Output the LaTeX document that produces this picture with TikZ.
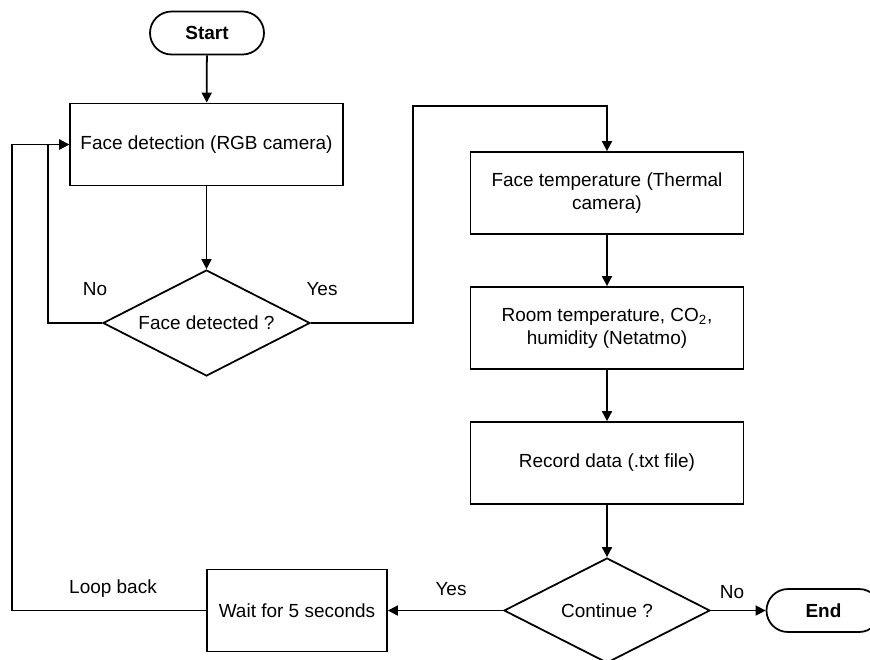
\documentclass[tikz,border=0pt]{standalone}
\usepackage{fontspec}
\setmainfont{Liberation Sans}
\usetikzlibrary{shapes.geometric, arrows.meta}

\begin{document}
\begin{tikzpicture}[
    font=\fontsize{10.8}{13}\selectfont,
    box/.style={draw, line width=1pt, align=center, inner sep=2pt,
        minimum width=5.46cm, minimum height=1.64cm},
    terminal/.style={draw, line width=1pt, rounded corners=.43cm,
        minimum width=2.28cm, minimum height=.86cm, font=\fontsize{10.8}{13}\selectfont\bfseries},
    decision/.style={diamond, aspect=2, draw, line width=1pt, inner sep=0pt,
        minimum width=4.14cm, minimum height=2.12cm},
    arrow/.style={-{Triangle[length=.2cm, width=.2cm]}, line width=1pt},
    label/.style={inner sep=1pt},
]
    \useasboundingbox (0, 0) rectangle (17.4, -13.18);
    \clip (0, 0) rectangle (17.4, -13.18);

    %% left column: start, detection and the first test
    \node[terminal] (start) at (4.14, -.66) {Start};
    \node[box] (facedet) at (4.13, -2.89) {Face detection (RGB camera)};
    \node[decision] (detected) at (4.13, -6.46) {Face detected ?};
    \draw[arrow] (start) -- (facedet);
    \draw[arrow] (facedet) -- (detected);
    \draw[arrow] (detected.west) -- ++(-1.08, 0) |- (facedet.west);
    \node[label] (no1) at (1.9, -5.78) {No};
    \node[label] (yes1) at (6.44, -5.78) {Yes};

    %% right column: the measurements
    \node[box] (facetemp) at (12.14, -3.86) {Face temperature (Thermal\\camera)};
    \node[box] (roomtemp) at (12.14, -6.56)
        {Room temperature, CO\textsubscript{2},\\humidity (Netatmo)};
    \node[box] (record) at (12.14, -9.26) {Record data (.txt file)};
    \node[decision, minimum width=4.12cm, minimum height=2.1cm] (continue)
        at (12.14, -12.21) {Continue ?};
    \draw[arrow] (detected.east) -- ++(2.04, 0)
        |- ([yshift=.9cm]facetemp.north) -- (facetemp.north);
    \draw[arrow] (facetemp) -- (roomtemp);
    \draw[arrow] (roomtemp) -- (record);
    \draw[arrow] (record) -- (continue);

    %% bottom row: wait and loop back, or stop
    \node[box, minimum width=3.6cm] (wait) at (5.94, -12.21) {Wait for 5 seconds};
    \node[terminal] (end) at (16.47, -12.21) {End};
    \draw[arrow] (continue) -- (wait);
    \draw[arrow] (continue) -- (end);
    \draw[arrow] (wait.west) -- ++(-3.88, 0) |- (facedet.west);
    \node[label] (yes2) at (9.02, -11.78) {Yes};
    \node[label] (no2) at (14.64, -11.84) {No};
    \node[label] (loopback) at (2.26, -11.78) {Loop back};
\end{tikzpicture}
\end{document}
